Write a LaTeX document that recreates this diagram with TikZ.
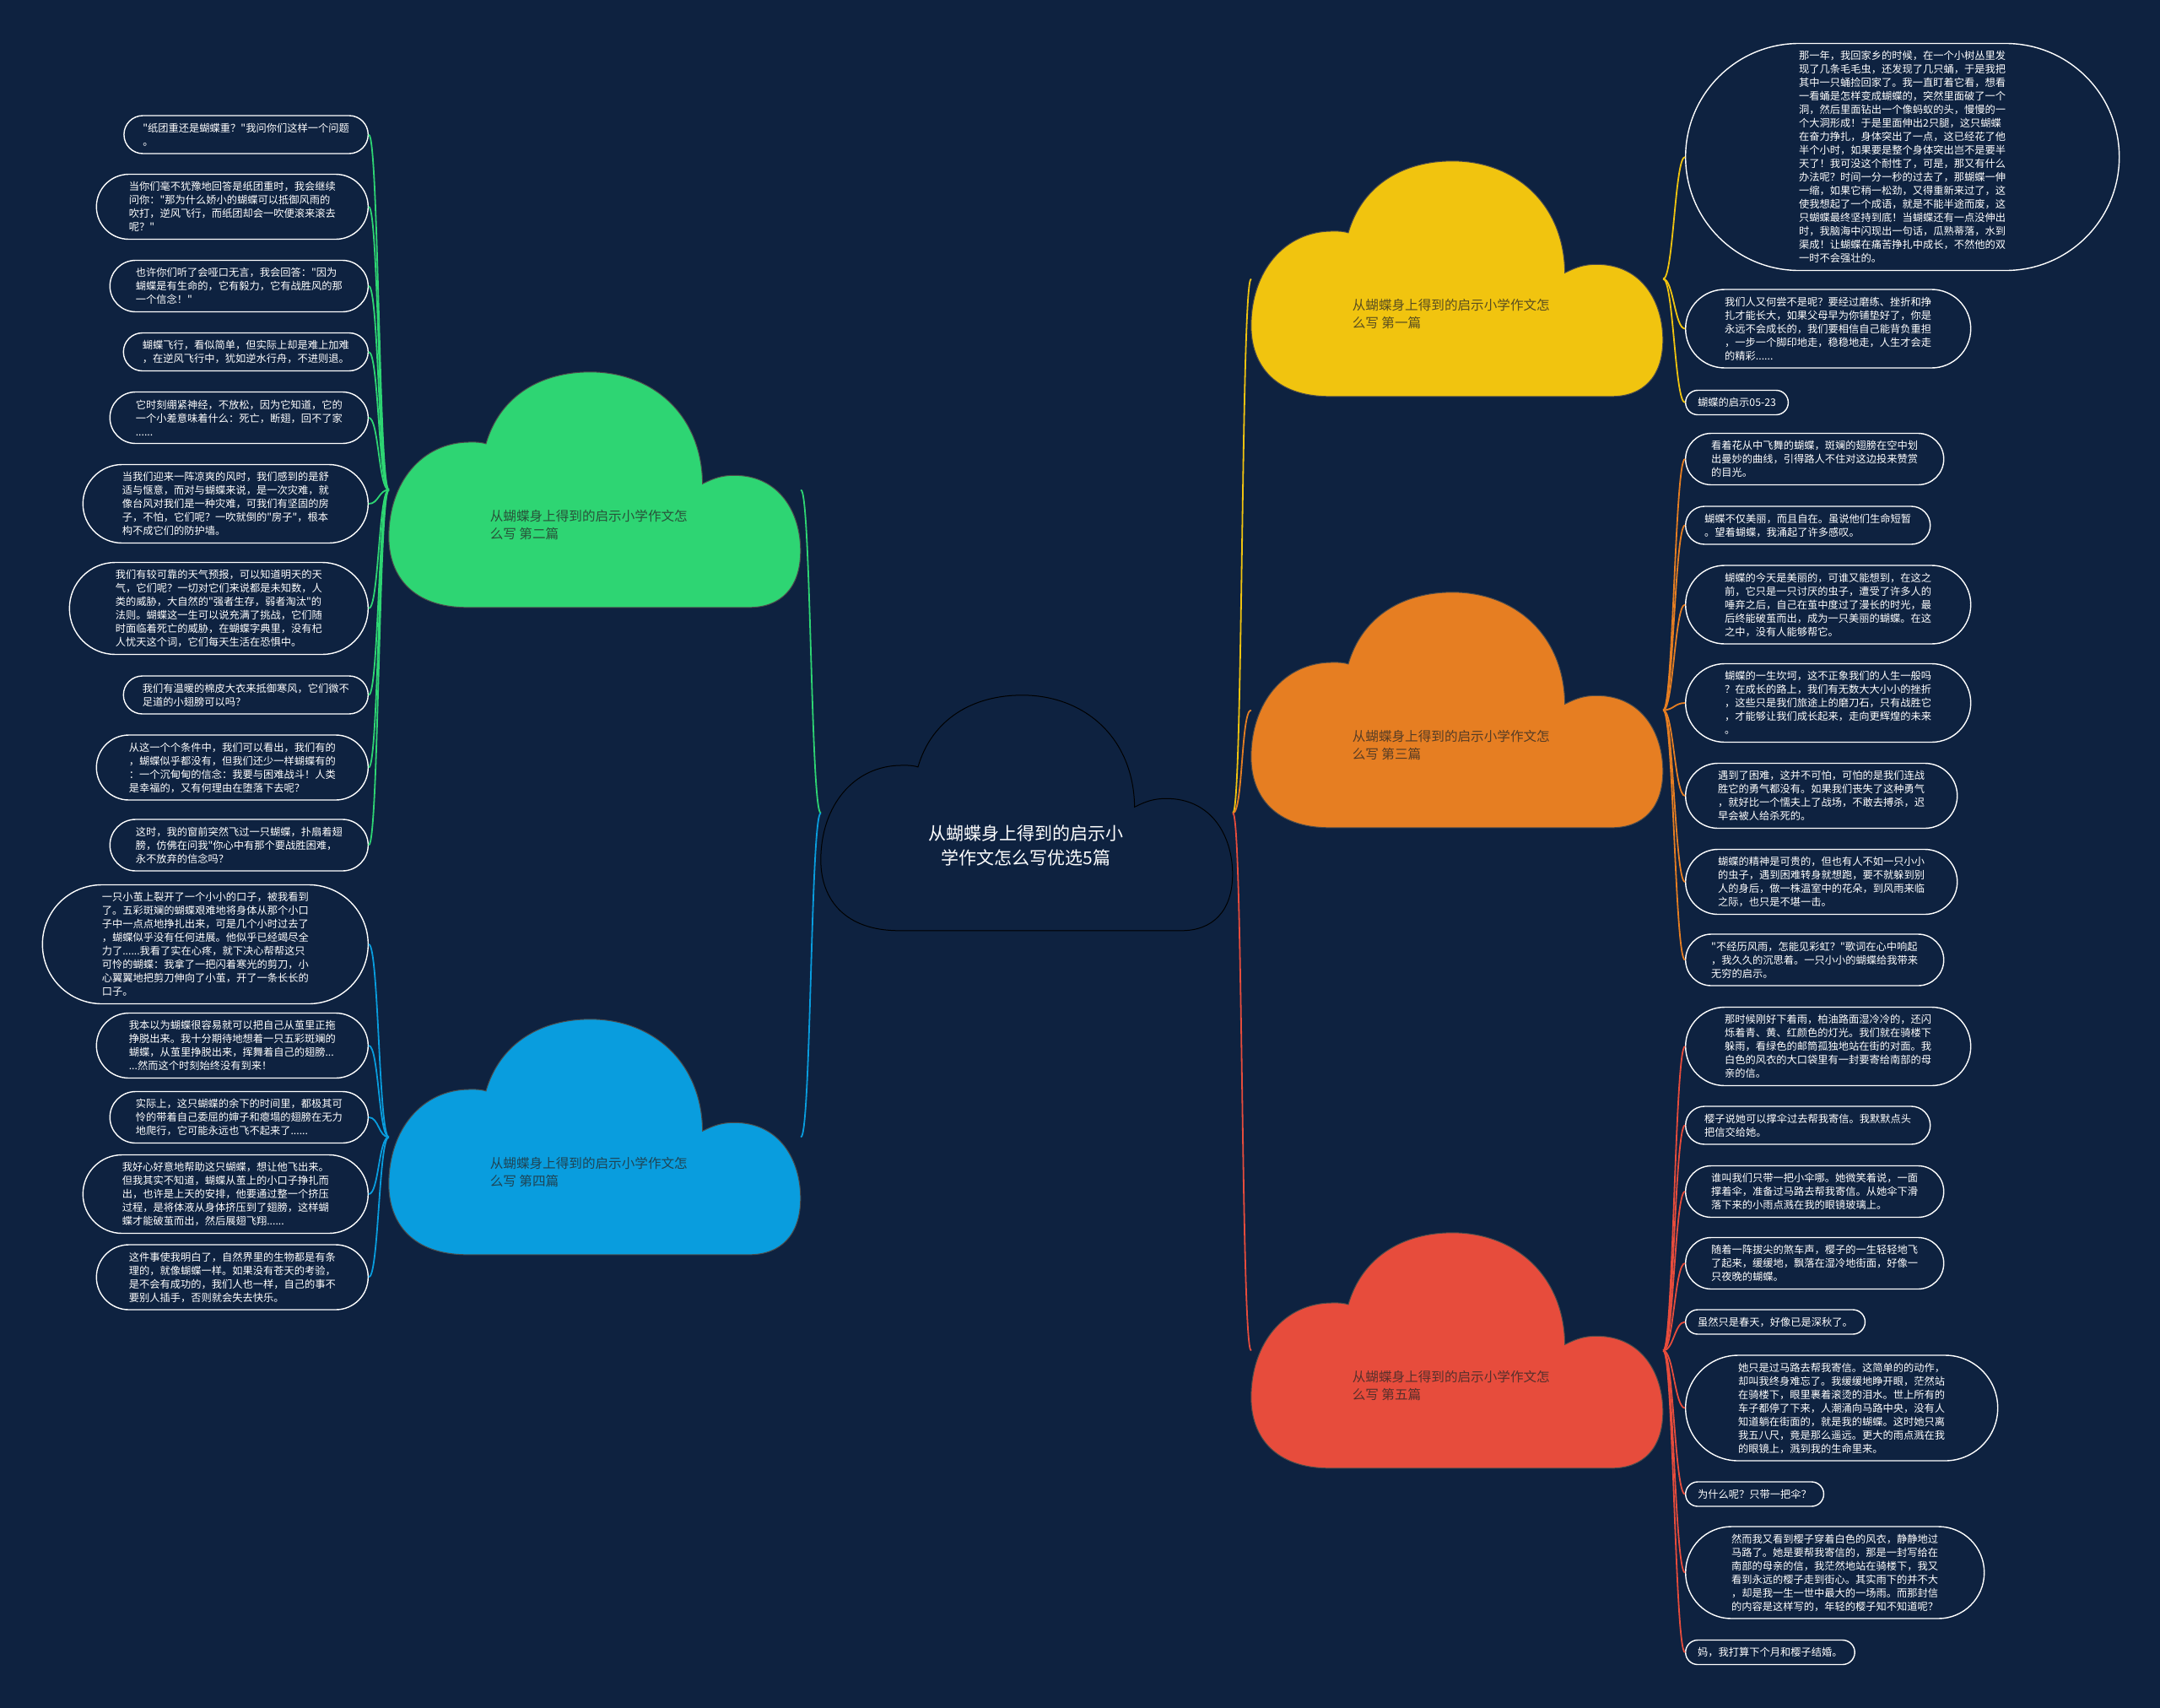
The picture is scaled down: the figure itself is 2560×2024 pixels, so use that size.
\documentclass[tikz,border=0pt]{standalone}
\usepackage{fontspec}
\newfontfamily\cjk{Noto Sans CJK SC}
\definecolor{bg}{HTML}{0E2240}
\definecolor{cgreen}{RGB}{46,213,115}
\definecolor{cblue}{RGB}{9,157,222}
\definecolor{cyellow}{RGB}{241,196,15}
\definecolor{corange}{RGB}{230,126,34}
\definecolor{cred}{RGB}{231,76,60}
\newcommand\mycloud[3]{%
  \begin{scope}[shift={(#1.north west)}, x=488pt, y=-279pt]
    \filldraw[fill=#2, draw=#3, line width=1pt]
      (0.19,1) .. controls (0.06,1) and (0,0.87) .. (0,0.70)
      .. controls (0,0.47) and (0.08,0.298) .. (0.197,0.298)
      .. controls (0.215,0.297) and (0.228,0.300) .. (0.236,0.305)
      .. controls (0.27,0.10) and (0.37,0) .. (0.489,0)
      .. controls (0.64,0) and (0.76,0.18) .. (0.762,0.475)
      .. controls (0.79,0.45) and (0.81,0.439) .. (0.839,0.439)
      .. controls (0.95,0.439) and (1,0.60) .. (1,0.76)
      .. controls (1,0.92) and (0.95,1) .. (0.876,1) -- cycle;
  \end{scope}}
\tikzset{
  leaf/.style={rectangle, draw=white, line width=1.4pt, fill=bg,
    text=white, align=left, inner ysep=0pt,
    inner xsep=8pt*#1+6.5pt, minimum height=16pt*#1+13pt,
    rounded corners=8pt*#1+6.45pt,
    font={\cjk\fontsize{12.25}{16}\selectfont}},
  cloudbox/.style={rectangle, minimum width=488pt, minimum height=279pt, inner sep=0pt},
  ctext/.style={align=left, inner sep=0pt, text=black!85, text opacity=0.75,
    font={\cjk\fontsize{15.6}{21}\selectfont}},
  conn/.style={line width=1.8pt},
}
\begin{document}
\begin{tikzpicture}[x=1pt, y=-1pt]
\useasboundingbox (0,0) rectangle (2560,2024);
\fill[bg] (0,0) rectangle (2560,2024);

% cloud boxes
\node[cloudbox] (c0) at (1217,963.5) {};
\node[cloudbox] (c2) at (705,580.5) {};
\node[cloudbox] (c4) at (705,1347.5) {};
\node[cloudbox] (c1) at (1727,330.5) {};
\node[cloudbox] (c3) at (1727,841.5) {};
\node[cloudbox] (c5) at (1727,1600.5) {};

% green leaves
\node[leaf=2, anchor=east] (g1) at (437,159.5) {"纸团重还是蝴蝶重？"我问你们这样一个问题\\。};
\node[leaf=4, anchor=east] (g2) at (437,245) {当你们毫不犹豫地回答是纸团重时，我会继续\\问你："那为什么娇小的蝴蝶可以抵御风雨的\\吹打，逆风飞行，而纸团却会一吹便滚来滚去\\呢？"};
\node[leaf=3, anchor=east] (g3) at (437,339) {也许你们听了会哑口无言，我会回答："因为\\蝴蝶是有生命的，它有毅力，它有战胜风的那\\一个信念！"};
\node[leaf=2, anchor=east] (g4) at (437,417) {蝴蝶飞行，看似简单，但实际上却是难上加难\\，在逆风飞行中，犹如逆水行舟，不进则退。};
\node[leaf=3, anchor=east] (g5) at (437,495) {它时刻绷紧神经，不放松，因为它知道，它的\\一个小差意味着什么：死亡，断翅，回不了家\\......};
\node[leaf=5, anchor=east] (g6) at (437,597) {当我们迎来一阵凉爽的风时，我们感到的是舒\\适与惬意，而对与蝴蝶来说，是一次灾难，就\\像台风对我们是一种灾难，可我们有坚固的房\\子，不怕，它们呢？一吹就倒的"房子"，根本\\构不成它们的防护墙。};
\node[leaf=6, anchor=east] (g7) at (437,721) {我们有较可靠的天气预报，可以知道明天的天\\气，它们呢？一切对它们来说都是未知数，人\\类的威胁，大自然的"强者生存，弱者淘汰"的\\法则。蝴蝶这一生可以说充满了挑战，它们随\\时面临着死亡的威胁，在蝴蝶字典里，没有杞\\人忧天这个词，它们每天生活在恐惧中。};
\node[leaf=2, anchor=east] (g8) at (437,823.5) {我们有温暖的棉皮大衣来抵御寒风，它们微不\\足道的小翅膀可以吗？};
\node[leaf=4, anchor=east] (g9) at (437,909.5) {从这一个个条件中，我们可以看出，我们有的\\，蝴蝶似乎都没有，但我们还少一样蝴蝶有的\\：一个沉甸甸的信念：我要与困难战斗！人类\\是幸福的，又有何理由在堕落下去呢？};
\node[leaf=3, anchor=east] (g10) at (437,1001.5) {这时，我的窗前突然飞过一只蝴蝶，扑扇着翅\\膀，仿佛在问我"你心中有那个要战胜困难，\\永不放弃的信念吗？};

% blue leaves
\node[leaf=8, anchor=east] (b1) at (437,1119) {一只小茧上裂开了一个小小的口子，被我看到\\了。五彩斑斓的蝴蝶艰难地将身体从那个小口\\子中一点点地挣扎出来，可是几个小时过去了\\，蝴蝶似乎没有任何进展。他似乎已经竭尽全\\力了......我看了实在心疼，就下决心帮帮这只\\可怜的蝴蝶：我拿了一把闪着寒光的剪刀，小\\心翼翼地把剪刀伸向了小茧，开了一条长长的\\口子。};
\node[leaf=4, anchor=east] (b2) at (437,1239) {我本以为蝴蝶很容易就可以把自己从茧里正拖\\挣脱出来。我十分期待地想着一只五彩斑斓的\\蝴蝶，从茧里挣脱出来，挥舞着自己的翅膀...\\...然而这个时刻始终没有到来！};
\node[leaf=3, anchor=east] (b3) at (437,1324) {实际上，这只蝴蝶的余下的时间里，都极其可\\怜的带着自己委屈的婶子和瘪塌的翅膀在无力\\地爬行，它可能永远也飞不起来了......};
\node[leaf=5, anchor=east] (b4) at (437,1415) {我好心好意地帮助这只蝴蝶，想让他飞出来。\\但我其实不知道，蝴蝶从茧上的小口子挣扎而\\出，也许是上天的安排，他要通过整一个挤压\\过程，是将体液从身体挤压到了翅膀，这样蝴\\蝶才能破茧而出，然后展翅飞翔......};
\node[leaf=4, anchor=east] (b5) at (437,1513.5) {这件事使我明白了，自然界里的生物都是有条\\理的，就像蝴蝶一样。如果没有苍天的考验，\\是不会有成功的，我们人也一样，自己的事不\\要别人插手，否则就会失去快乐。};

% yellow leaves
\node[leaf=16, anchor=west] (y1) at (1997,186) {那一年，我回家乡的时候，在一个小树丛里发\\现了几条毛毛虫，还发现了几只蛹，于是我把\\其中一只蛹捡回家了。我一直盯着它看，想看\\一看蛹是怎样变成蝴蝶的，突然里面破了一个\\洞，然后里面钻出一个像蚂蚁的头，慢慢的一\\个大洞形成！于是里面伸出2只腿，这只蝴蝶\\在奋力挣扎，身体突出了一点，这已经花了他\\半个小时，如果要是整个身体突出岂不是要半\\天了！我可没这个耐性了，可是，那又有什么\\办法呢？时间一分一秒的过去了，那蝴蝶一伸\\一缩，如果它稍一松劲，又得重新来过了，这\\使我想起了一个成语，就是不能半途而废，这\\只蝴蝶最终坚持到底！当蝴蝶还有一点没伸出\\时，我脑海中闪现出一句话，瓜熟蒂落，水到\\渠成！让蝴蝶在痛苦挣扎中成长，不然他的双\\一时不会强壮的。};
\node[leaf=5, anchor=west] (y2) at (1997,389.5) {我们人又何尝不是呢？要经过磨练、挫折和挣\\扎才能长大，如果父母早为你铺垫好了，你是\\永远不会成长的，我们要相信自己能背负重担\\，一步一个脚印地走，稳稳地走，人生才会走\\的精彩......};
\node[leaf=1, anchor=west] (y3) at (1997,477) {蝴蝶的启示05-23};

% orange leaves
\node[leaf=3, anchor=west] (o1) at (1997,544) {看着花从中飞舞的蝴蝶，斑斓的翅膀在空中划\\出曼妙的曲线，引得路人不住对这边投来赞赏\\的目光。};
\node[leaf=2, anchor=west] (o2) at (1997,622.5) {蝴蝶不仅美丽，而且自在。虽说他们生命短暂\\。望着蝴蝶，我涌起了许多感叹。};
\node[leaf=5, anchor=west] (o3) at (1997,716.5) {蝴蝶的今天是美丽的，可谁又能想到，在这之\\前，它只是一只讨厌的虫子，遭受了许多人的\\唾弃之后，自己在茧中度过了漫长的时光，最\\后终能破茧而出，成为一只美丽的蝴蝶。在这\\之中，没有人能够帮它。};
\node[leaf=5, anchor=west] (o4) at (1997,833) {蝴蝶的一生坎坷，这不正象我们的人生一般吗\\？在成长的路上，我们有无数大大小小的挫折\\，这些只是我们旅途上的磨刀石，只有战胜它\\，才能够让我们成长起来，走向更辉煌的未来\\。};
\node[leaf=4, anchor=west] (o5) at (1997,943) {遇到了困难，这并不可怕，可怕的是我们连战\\胜它的勇气都没有。如果我们丧失了这种勇气\\，就好比一个懦夫上了战场，不敢去搏杀，迟\\早会被人给杀死的。};
\node[leaf=4, anchor=west] (o6) at (1997,1045) {蝴蝶的精神是可贵的，但也有人不如一只小小\\的虫子，遇到困难转身就想跑，要不就躲到别\\人的身后，做一株温室中的花朵，到风雨来临\\之际，也只是不堪一击。};
\node[leaf=3, anchor=west] (o7) at (1997,1137.5) {"不经历风雨，怎能见彩虹？"歌词在心中响起\\，我久久的沉思着。一只小小的蝴蝶给我带来\\无穷的启示。};

% red leaves
\node[leaf=5, anchor=west] (r1) at (1997,1240) {那时候刚好下着雨，柏油路面湿冷冷的，还闪\\烁着青、黄、红颜色的灯光。我们就在骑楼下\\躲雨，看绿色的邮筒孤独地站在街的对面。我\\白色的风衣的大口袋里有一封要寄给南部的母\\亲的信。};
\node[leaf=2, anchor=west] (r2) at (1997,1333.5) {樱子说她可以撑伞过去帮我寄信。我默默点头\\把信交给她。};
\node[leaf=3, anchor=west] (r3) at (1997,1412) {谁叫我们只带一把小伞哪。她微笑着说，一面\\撑着伞，准备过马路去帮我寄信。从她伞下滑\\落下来的小雨点溅在我的眼镜玻璃上。};
\node[leaf=3, anchor=west] (r4) at (1997,1497) {随着一阵拔尖的煞车声，樱子的一生轻轻地飞\\了起来，缓缓地，飘落在湿冷地街面，好像一\\只夜晚的蝴蝶。};
\node[leaf=1, anchor=west] (r5) at (1997,1566.5) {虽然只是春天，好像已是深秋了。};
\node[leaf=7, anchor=west] (r6) at (1997,1668.5) {她只是过马路去帮我寄信。这简单的的动作，\\却叫我终身难忘了。我缓缓地睁开眼，茫然站\\在骑楼下，眼里裹着滚烫的泪水。世上所有的\\车子都停了下来，人潮涌向马路中央，没有人\\知道躺在街面的，就是我的蝴蝶。这时她只离\\我五八尺，竟是那么遥远。更大的雨点溅在我\\的眼镜上，溅到我的生命里来。};
\node[leaf=1, anchor=west] (r7) at (1997,1770.5) {为什么呢？只带一把伞？};
\node[leaf=6, anchor=west] (r8) at (1997,1863.5) {然而我又看到樱子穿着白色的风衣，静静地过\\马路了。她是要帮我寄信的，那是一封写给在\\南部的母亲的信，我茫然地站在骑楼下，我又\\看到永远的樱子走到街心。其实雨下的并不大\\，却是我一生一世中最大的一场雨。而那封信\\的内容是这样写的，年轻的樱子知不知道呢？};
\node[leaf=1, anchor=west] (r9) at (1997,1958) {妈，我打算下个月和樱子结婚。};

% connectors: center to branches
\draw[conn, cgreen] (c0.west) .. controls +(-12,0) and +(12,0) .. (c2.east);
\draw[conn, cblue] (c0.west) .. controls +(-12,0) and +(12,0) .. (c4.east);
\draw[conn, cyellow] (c0.east) .. controls +(12,0) and +(-12,0) .. (c1.west);
\draw[conn, corange] (c0.east) .. controls +(12,0) and +(-12,0) .. (c3.west);
\draw[conn, cred] (c0.east) .. controls +(12,0) and +(-12,0) .. (c5.west);

% connectors: branches to leaves
\foreach \n in {g1,g2,g3,g4,g5,g6,g7,g8,g9,g10}
  \draw[conn, cgreen] (c2.west) .. controls +(-12,0) and +(12,0) .. (\n.east);
\foreach \n in {b1,b2,b3,b4,b5}
  \draw[conn, cblue] (c4.west) .. controls +(-12,0) and +(12,0) .. (\n.east);
\foreach \n in {y1,y2,y3}
  \draw[conn, cyellow] (c1.east) .. controls +(12,0) and +(-12,0) .. (\n.west);
\foreach \n in {o1,o2,o3,o4,o5,o6,o7}
  \draw[conn, corange] (c3.east) .. controls +(12,0) and +(-12,0) .. (\n.west);
\foreach \n in {r1,r2,r3,r4,r5,r6,r7,r8,r9}
  \draw[conn, cred] (c5.east) .. controls +(12,0) and +(-12,0) .. (\n.west);

% cloud shapes
\mycloud{c0}{bg}{black}
\mycloud{c2}{cgreen}{black!70}
\mycloud{c4}{cblue}{black!70}
\mycloud{c1}{cyellow}{black!70}
\mycloud{c3}{corange}{black!70}
\mycloud{c5}{cred}{black!70}

% cloud texts
\node[align=center, inner sep=0pt, text=white, font={\cjk\fontsize{21}{29}\selectfont}] (c0t) at (1216,1002) {从蝴蝶身上得到的启示小\\学作文怎么写优选5篇};
\node[ctext, anchor=west] (c2t) at (580.6,622) {从蝴蝶身上得到的启示小学作文怎\\么写 第二篇};
\node[ctext, anchor=west] (c4t) at (580.6,1389) {从蝴蝶身上得到的启示小学作文怎\\么写 第四篇};
\node[ctext, anchor=west] (c1t) at (1602.6,372) {从蝴蝶身上得到的启示小学作文怎\\么写 第一篇};
\node[ctext, anchor=west] (c3t) at (1602.6,883) {从蝴蝶身上得到的启示小学作文怎\\么写 第三篇};
\node[ctext, anchor=west] (c5t) at (1602.6,1642) {从蝴蝶身上得到的启示小学作文怎\\么写 第五篇};
\end{tikzpicture}
\end{document}
